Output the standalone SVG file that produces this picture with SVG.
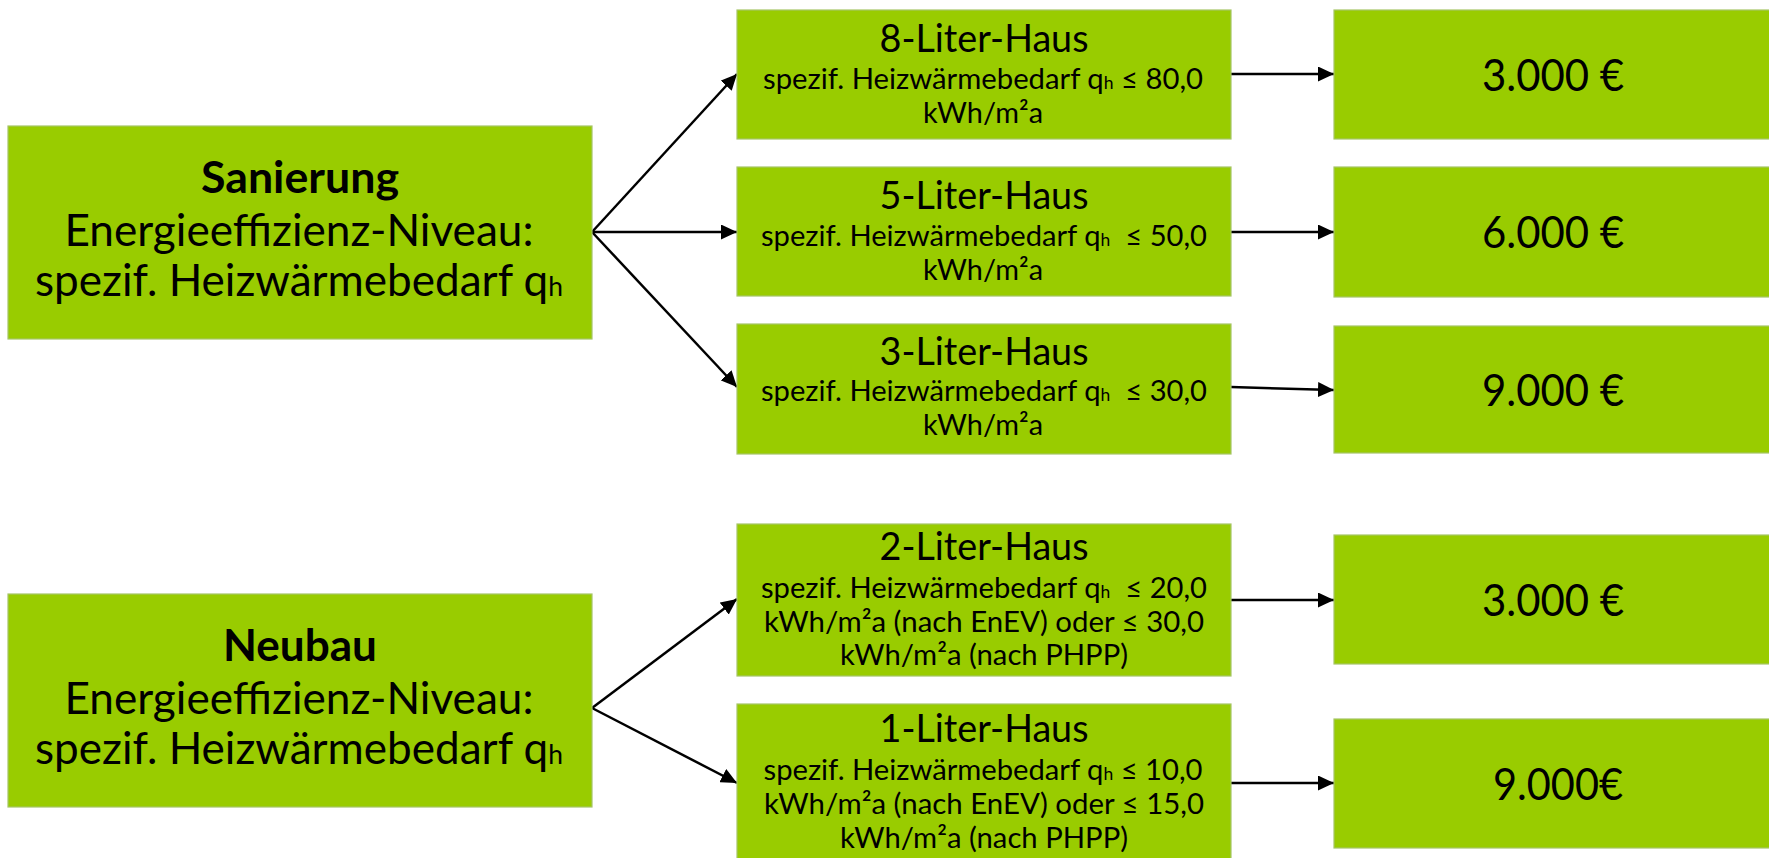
<svg xmlns="http://www.w3.org/2000/svg" width="1769" height="858" viewBox="0 0 1769 858">
  <defs>
    <style>
      .box { fill: #99cc00; stroke: #a6c566; stroke-width: 1.2; }
      .t { font-family: Lato, "Noto Sans", "Liberation Sans", sans-serif; fill: #000; text-anchor: middle; }
      .big { font-size: 44px; }
      .bold { font-weight: bold; }
      .ttl { font-size: 38px; }
      .sub { font-size: 28.5px; }
      .price { font-size: 45px; }
      .idx { font-size: 0.6em; }
      .conn { stroke: #000; stroke-width: 2.5; fill: none; marker-end: url(#ah); }
    </style>
    <marker id="ah" markerUnits="userSpaceOnUse" markerWidth="16" markerHeight="15" refX="16" refY="7.5" orient="auto">
      <path d="M0,0 L16,7.5 L0,15 Z" fill="#000"/>
    </marker>
  </defs>
  <rect width="1769" height="858" fill="#fff"/>

  <!-- connectors -->
  <g id="connectors">
    <line class="conn" x1="592" y1="232" x2="737" y2="74"/>
    <line class="conn" x1="592" y1="232" x2="737" y2="232"/>
    <line class="conn" x1="592" y1="232" x2="737" y2="387"/>
    <line class="conn" x1="1231" y1="74" x2="1334" y2="74"/>
    <line class="conn" x1="1231" y1="232" x2="1334" y2="232"/>
    <line class="conn" x1="1231" y1="387" x2="1334" y2="390"/>
    <line class="conn" x1="592" y1="708" x2="737" y2="599"/>
    <line class="conn" x1="592" y1="708" x2="737" y2="783"/>
    <line class="conn" x1="1231" y1="600" x2="1334" y2="600"/>
    <line class="conn" x1="1231" y1="783" x2="1334" y2="783"/>
  </g>

  <!-- left column: building type -->
  <g id="sanierung">
    <rect class="box" x="8" y="126" width="584" height="213"/>
    <text class="t big bold" x="300" y="193" textLength="198" lengthAdjust="spacingAndGlyphs">Sanierung</text>
    <text class="t big" x="299" y="246" textLength="469" lengthAdjust="spacingAndGlyphs">Energieeffizienz-Niveau:</text>
    <text class="t big" x="299" y="296" textLength="528" lengthAdjust="spacingAndGlyphs">spezif. Heizwärmebedarf q<tspan class="idx">h</tspan></text>
  </g>
  <g id="neubau">
    <rect class="box" x="8" y="594" width="584" height="213"/>
    <text class="t big bold" x="300" y="661" textLength="154" lengthAdjust="spacingAndGlyphs">Neubau</text>
    <text class="t big" x="299" y="714" textLength="469" lengthAdjust="spacingAndGlyphs">Energieeffizienz-Niveau:</text>
    <text class="t big" x="299" y="764" textLength="528" lengthAdjust="spacingAndGlyphs">spezif. Heizwärmebedarf q<tspan class="idx">h</tspan></text>
  </g>

  <!-- middle column: efficiency levels -->
  <g id="haus8">
    <rect class="box" x="737" y="10" width="494" height="129"/>
    <text class="t ttl" x="984" y="52" textLength="209" lengthAdjust="spacingAndGlyphs">8-Liter-Haus</text>
    <text class="t sub" x="983" y="89" textLength="440" lengthAdjust="spacingAndGlyphs">spezif. Heizwärmebedarf q<tspan class="idx">h</tspan> ≤ 80,0</text>
    <text class="t sub" x="983" y="123" textLength="120" lengthAdjust="spacingAndGlyphs">kWh/m²a</text>
  </g>
  <g id="haus5">
    <rect class="box" x="737" y="167" width="494" height="129"/>
    <text class="t ttl" x="984" y="209" textLength="209" lengthAdjust="spacingAndGlyphs">5-Liter-Haus</text>
    <text class="t sub" x="984" y="246" textLength="446" lengthAdjust="spacingAndGlyphs">spezif. Heizwärmebedarf q<tspan class="idx">h</tspan>&#160; ≤ 50,0</text>
    <text class="t sub" x="983" y="280" textLength="120" lengthAdjust="spacingAndGlyphs">kWh/m²a</text>
  </g>
  <g id="haus3">
    <rect class="box" x="737" y="324" width="494" height="130"/>
    <text class="t ttl" x="984" y="365" textLength="209" lengthAdjust="spacingAndGlyphs">3-Liter-Haus</text>
    <text class="t sub" x="984" y="401" textLength="446" lengthAdjust="spacingAndGlyphs">spezif. Heizwärmebedarf q<tspan class="idx">h</tspan>&#160; ≤ 30,0</text>
    <text class="t sub" x="983" y="435" textLength="120" lengthAdjust="spacingAndGlyphs">kWh/m²a</text>
  </g>
  <g id="haus2">
    <rect class="box" x="737" y="524" width="494" height="152"/>
    <text class="t ttl" x="984" y="560" textLength="209" lengthAdjust="spacingAndGlyphs">2-Liter-Haus</text>
    <text class="t sub" x="984" y="598" textLength="446" lengthAdjust="spacingAndGlyphs">spezif. Heizwärmebedarf q<tspan class="idx">h</tspan>&#160; ≤ 20,0</text>
    <text class="t sub" x="984" y="632" textLength="440" lengthAdjust="spacingAndGlyphs">kWh/m²a (nach EnEV) oder ≤ 30,0</text>
    <text class="t sub" x="984" y="665" textLength="288" lengthAdjust="spacingAndGlyphs">kWh/m²a (nach PHPP)</text>
  </g>
  <g id="haus1">
    <rect class="box" x="737" y="704" width="494" height="160"/>
    <text class="t ttl" x="984" y="742" textLength="209" lengthAdjust="spacingAndGlyphs">1-Liter-Haus</text>
    <text class="t sub" x="983" y="780" textLength="439" lengthAdjust="spacingAndGlyphs">spezif. Heizwärmebedarf q<tspan class="idx">h</tspan> ≤ 10,0</text>
    <text class="t sub" x="984" y="814" textLength="440" lengthAdjust="spacingAndGlyphs">kWh/m²a (nach EnEV) oder ≤ 15,0</text>
    <text class="t sub" x="984" y="848" textLength="288" lengthAdjust="spacingAndGlyphs">kWh/m²a (nach PHPP)</text>
  </g>

  <!-- right column: subsidy amounts -->
  <g id="betrag8">
    <rect class="box" x="1334" y="10" width="440" height="129"/>
    <text class="t price" x="1553" y="91" textLength="142" lengthAdjust="spacingAndGlyphs">3.000 €</text>
  </g>
  <g id="betrag5">
    <rect class="box" x="1334" y="167" width="440" height="130"/>
    <text class="t price" x="1553" y="248" textLength="142" lengthAdjust="spacingAndGlyphs">6.000 €</text>
  </g>
  <g id="betrag3">
    <rect class="box" x="1334" y="326" width="440" height="127"/>
    <text class="t price" x="1553" y="406" textLength="142" lengthAdjust="spacingAndGlyphs">9.000 €</text>
  </g>
  <g id="betrag2">
    <rect class="box" x="1334" y="535" width="440" height="129"/>
    <text class="t price" x="1553" y="616" textLength="142" lengthAdjust="spacingAndGlyphs">3.000 €</text>
  </g>
  <g id="betrag1">
    <rect class="box" x="1334" y="719" width="440" height="129"/>
    <text class="t price" x="1558" y="800" textLength="130" lengthAdjust="spacingAndGlyphs">9.000€</text>
  </g>
</svg>
